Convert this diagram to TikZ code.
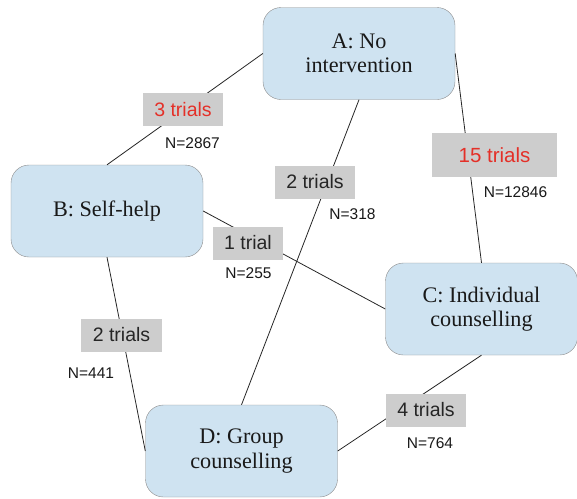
\documentclass[tikz,border=0pt]{standalone}
\usepackage{fontspec}
\setmainfont{Liberation Serif}
\newfontfamily\labelfont{Liberation Sans}
\usepackage{tikz}
\usetikzlibrary{positioning}

\definecolor{boxblue}{RGB}{207,227,241}
\definecolor{boxline}{RGB}{140,140,140}
\definecolor{trialgray}{RGB}{205,205,205}
\definecolor{trialred}{RGB}{228,48,40}

\tikzset{
  treat/.style={draw=boxline, fill=boxblue, rounded corners=18pt, minimum width=192pt,
    minimum height=92pt, align=center, text=black!90, font=\fontsize{22.2}{24.5}\selectfont},
  trials/.style={fill=trialgray, inner xsep=11.5pt, minimum height=33pt, text=black!85,
    font=\labelfont\fontsize{19.5}{22}\selectfont},
  npart/.style={inner sep=0pt, text=black!90, font=\labelfont\fontsize{15.5}{18}\selectfont},
  link/.style={line width=0.8pt, black!85}
}

\begin{document}
\begin{tikzpicture}[x=1pt,y=-1pt]
  \useasboundingbox (0,0) rectangle (577,498);
  \node[treat] (A) at (359,53.5) {A: No\\intervention};
  \node[treat] (B) at (107,211) {B: Self-help};
  \node[treat] (C) at (481.5,309) {C: Individual\\counselling};
  \node[treat] (D) at (241.5,451) {D: Group\\counselling};

  \draw[link] (A.west) -- (B.north);
  \draw[link] (A.east) -- (C.north);
  \draw[link] (A.south) -- (D.north);
  \draw[link] (B.east) -- (C.west);
  \draw[link] (B.south) -- (D.west);
  \draw[link] (C.south) -- (D.east);

  \node[trials, text=trialred] (ab) at (183,109.5) {3 trials};
  \node[npart] (nab) at (192.5,143) {N=2867};
  \node[trials, text=trialred, minimum width=125pt, minimum height=44pt,
    font=\labelfont\fontsize{20.5}{23}\selectfont] (ac) at (494.5,155) {15 trials};
  \node[npart] (nac) at (515.5,192.5) {N=12846};
  \node[trials] (ad) at (315,182) {2 trials};
  \node[npart] (nad) at (352.5,214.5) {N=318};
  \node[trials] (bc) at (248,243) {1 trial};
  \node[npart] (nbc) at (248.5,273) {N=255};
  \node[trials] (bd) at (121.5,335) {2 trials};
  \node[npart] (nbd) at (91,373.5) {N=441};
  \node[trials] (cd) at (426,410) {4 trials};
  \node[npart] (ncd) at (430,443.5) {N=764};
\end{tikzpicture}
\end{document}
